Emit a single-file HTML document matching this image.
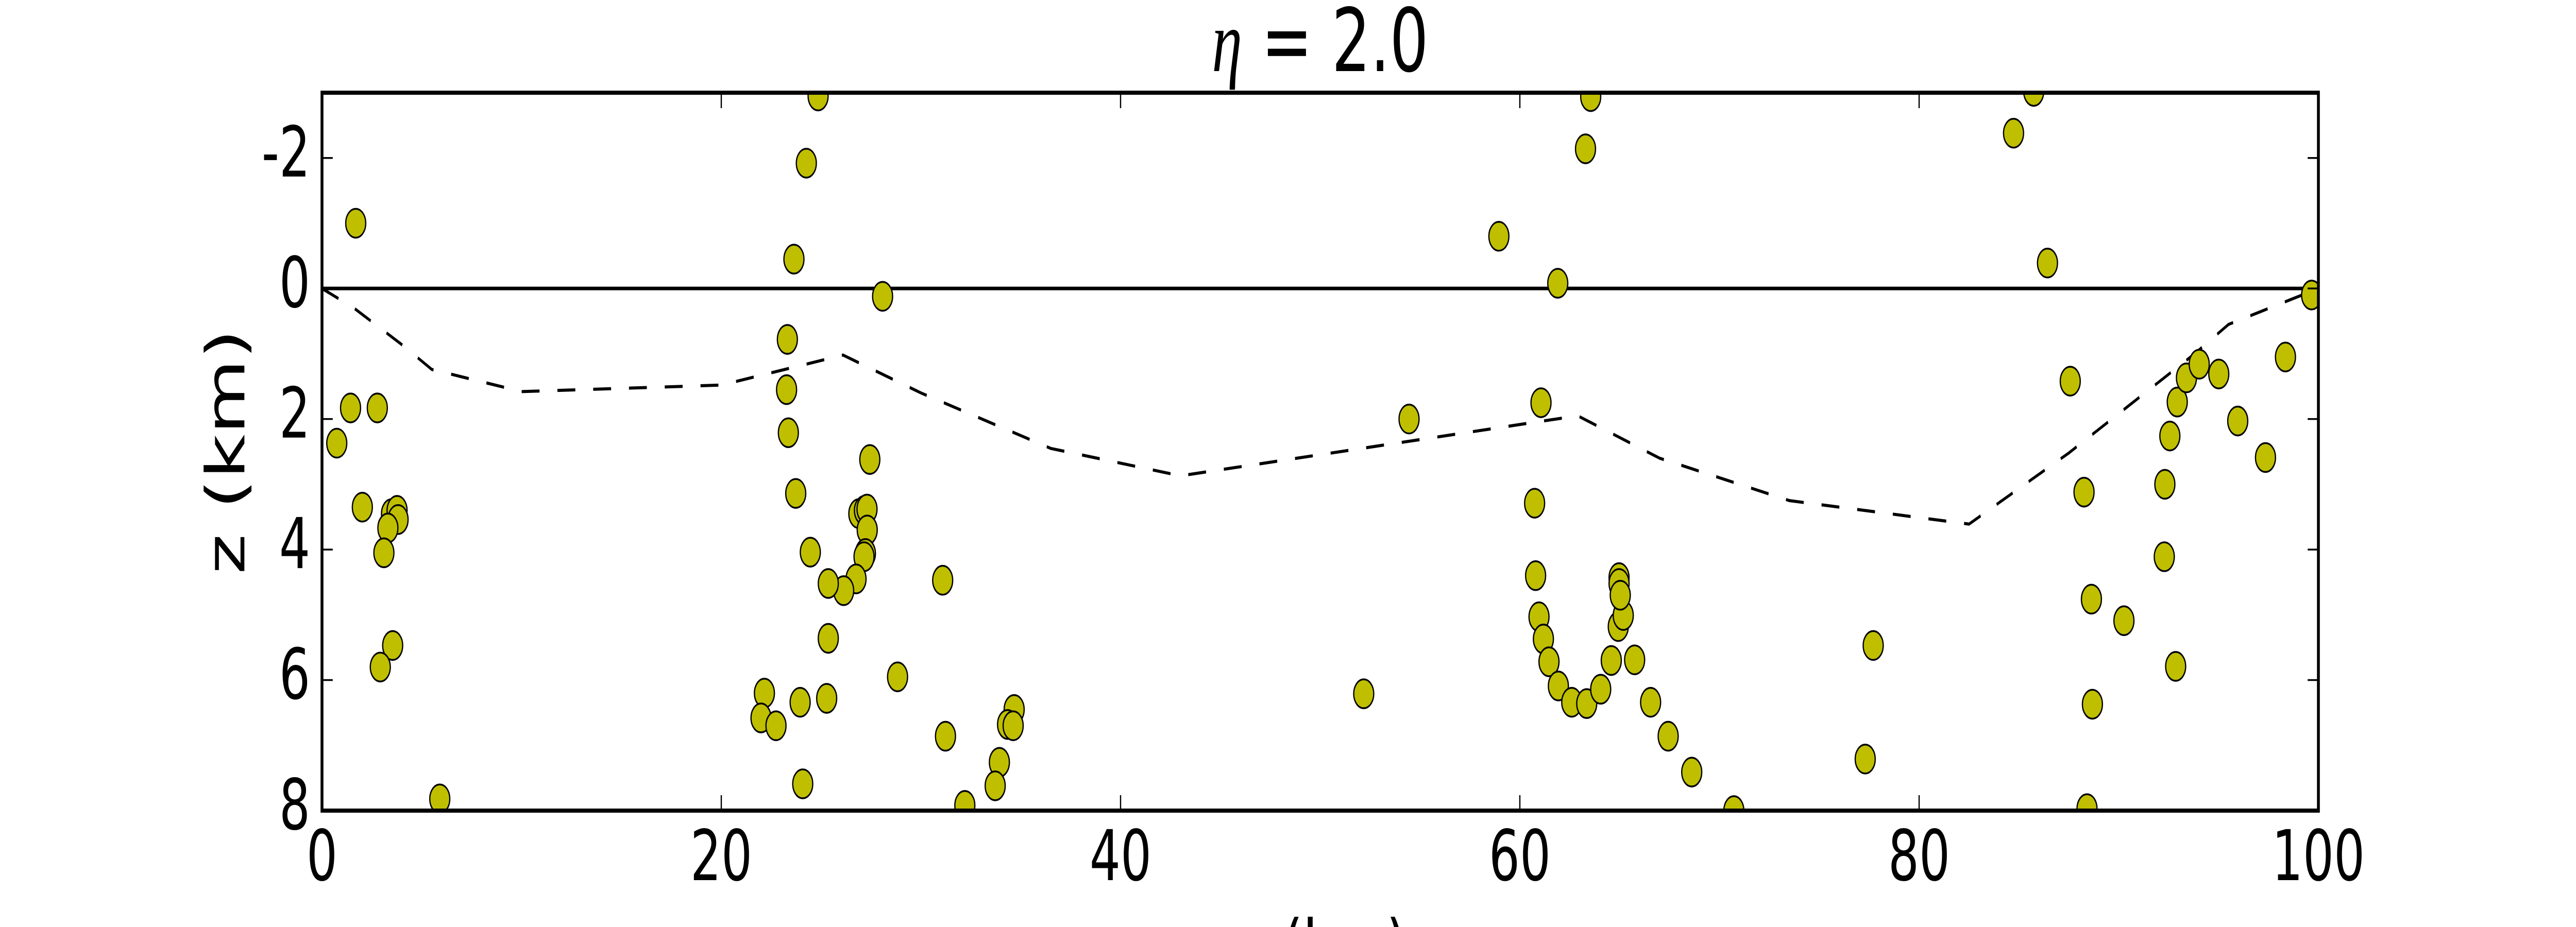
<!DOCTYPE html>
<html><head><meta charset="utf-8"><style>
html,body{margin:0;padding:0;background:#fff;width:100%;height:100%;overflow:hidden;}
svg{display:block;width:100vw;height:100vh;overflow:hidden;}
text{font-family:"DejaVu Sans","Liberation Sans",sans-serif;fill:#000;}
</style></head><body>
<svg id="chart" viewBox="0 0 7200 1800" preserveAspectRatio="none" xmlns="http://www.w3.org/2000/svg">
<defs>
<clipPath id="plotclip"><rect x="900" y="180" width="5580" height="1394"/></clipPath>
<clipPath id="canvasclip"><rect x="0" y="0" width="7200" height="1800"/></clipPath>
</defs>
<rect x="0" y="0" width="7200" height="1800" fill="#fff"/>
<g id="marks" clip-path="url(#plotclip)"></g>
<g id="axes"></g>
<text x="3690" y="138" text-anchor="middle" font-size="170"><tspan font-family="Liberation Serif, serif" font-style="italic">η</tspan> = 2.0</text>
<text transform="translate(683,877) rotate(-90)" text-anchor="middle" font-size="150">z (km)</text>
<g clip-path="url(#canvasclip)"><text x="3690" y="1894" text-anchor="middle" font-size="150">x (km)</text></g>
</svg>
<script>
const xTicks = [0, 20, 40, 60, 80, 100];
const yTicks = [-2, 0, 2, 4, 6, 8];
const yTickLabels = ["-2", "0", "2", "4", "6", "8"];
const surfaceX = [0, 100];
const surfaceZ = [0, 0];
const boundaryX = [0, 1.6, 4, 5.5, 10, 20, 26.1, 30, 36.5, 43, 62.9, 67, 73.5, 82.5, 87.5, 93.8, 95.5, 100];
const boundaryZ = [0, 0.3, 0.86, 1.24, 1.58, 1.48, 1.02, 1.6, 2.45, 2.87, 1.95, 2.6, 3.25, 3.61, 2.52, 1.0, 0.55, 0.0];
const pointX = [1.69,1.43,2.77,0.74,2.02,3.48,3.76,3.81,3.30,3.10,3.54,2.92,5.90,
 24.85,24.26,23.64,28.08,23.31,23.27,23.36,27.44,23.73,26.89,27.17,27.30,27.31,27.22,27.15,24.46,26.75,26.13,25.36,25.36,28.83,22.16,21.99,22.74,23.95,25.28,24.08,
 31.09,31.23,34.67,34.34,34.62,33.93,33.72,32.20,
 52.18,54.45,
 63.55,63.29,58.95,61.90,61.06,60.74,60.79,60.96,61.18,61.46,61.93,62.60,63.35,64.05,64.58,64.93,65.18,64.97,64.97,65.03,65.75,66.55,67.43,68.61,70.72,
 77.3,77.7,
 85.74,84.73,86.43,99.66,87.57,88.26,88.63,88.68,88.41,90.26,92.28,92.31,92.56,92.93,93.39,94.03,95.01,95.96,97.35,98.35,92.85];
const pointZ = [-1.0,1.83,1.83,2.37,3.35,3.45,3.40,3.54,3.67,4.05,5.47,5.80,7.82,
 -2.95,-1.92,-0.45,0.12,0.78,1.55,2.21,2.62,3.14,3.45,3.40,3.38,3.70,4.06,4.11,4.04,4.45,4.63,4.52,5.36,5.95,6.20,6.58,6.70,6.34,6.28,7.59,
 4.47,6.86,6.45,6.68,6.70,7.26,7.62,7.92,
 6.21,2.00,
 -2.94,-2.14,-0.80,-0.08,1.75,3.29,4.40,5.03,5.37,5.72,6.09,6.34,6.36,6.14,5.70,5.18,5.01,4.43,4.52,4.70,5.69,6.34,6.86,7.41,8.0,
 7.21,5.47,
 -3.02,-2.38,-0.39,0.10,1.42,3.12,4.76,6.37,7.97,5.09,4.11,3.00,2.26,1.74,1.37,1.16,1.31,2.03,2.59,1.05,5.79];

const NS = "http://www.w3.org/2000/svg";
const X0 = 900, X1 = 6480, Y0 = 180, Y1 = 1574;
const xMin = 0, xMax = 100, zMin = -3, zMax = 8;
function sx(v){ return X0 + (v - xMin) / (xMax - xMin) * (X1 - X0); }
function sy(v){ return Y0 + (v - zMin) / (zMax - zMin) * (Y1 - Y0); }
function mk(tag, attrs, parent){
  const e = document.createElementNS(NS, tag);
  for (const k in attrs) e.setAttribute(k, attrs[k]);
  parent.appendChild(e); return e;
}
const marks = document.getElementById('marks');
const axes = document.getElementById('axes');

let d = surfaceX.map((v,i)=>(i?'L':'M')+sx(v)+','+sy(surfaceZ[i])).join(' ');
const surf = mk('path', {d:d, fill:'none', stroke:'#000', 'stroke-width':7}, marks);



d = boundaryX.map((v,i)=>(i?'L':'M')+sx(v)+','+sy(boundaryZ[i])).join(' ');
const bnd = mk('path', {d:d, fill:'none', stroke:'#000', 'stroke-width':6, 'stroke-dasharray':'50 50'}, marks);



pointX.forEach((v,i)=>{
  const c = mk('circle', {cx:sx(v), cy:sy(pointZ[i]), r:28, fill:'#bfbf00', stroke:'#000', 'stroke-width':3.5}, marks);
  
  
});

xTicks.forEach((v)=>{
  const x = sx(v);
  const t1 = mk('line', {x1:x, y1:Y1, x2:x, y2:Y1-30, stroke:'#000', 'stroke-width':3.5}, axes);
  
  
  const t2 = mk('line', {x1:x, y1:Y0, x2:x, y2:Y0+30, stroke:'#000', 'stroke-width':3.5}, axes);
  
  
  const lb = mk('text', {x:x, y:1709, 'text-anchor':'middle', 'font-size':136}, axes);
  lb.textContent = String(v);
  
  
});
yTicks.forEach((v,i)=>{
  const y = sy(v);
  const t1 = mk('line', {x1:X0, y1:y, x2:X0+30, y2:y, stroke:'#000', 'stroke-width':3.5}, axes);
  
  
  const t2 = mk('line', {x1:X1, y1:y, x2:X1-30, y2:y, stroke:'#000', 'stroke-width':3.5}, axes);
  
  
  const lb = mk('text', {x:867, y:y+36, 'text-anchor':'end', 'font-size':136}, axes);
  lb.textContent = yTickLabels[i];
  
  
});
const frame = mk('rect', {x:X0, y:Y0, width:X1-X0, height:Y1-Y0, fill:'none', stroke:'#000', 'stroke-width':8}, axes);


</script>
</body></html>
